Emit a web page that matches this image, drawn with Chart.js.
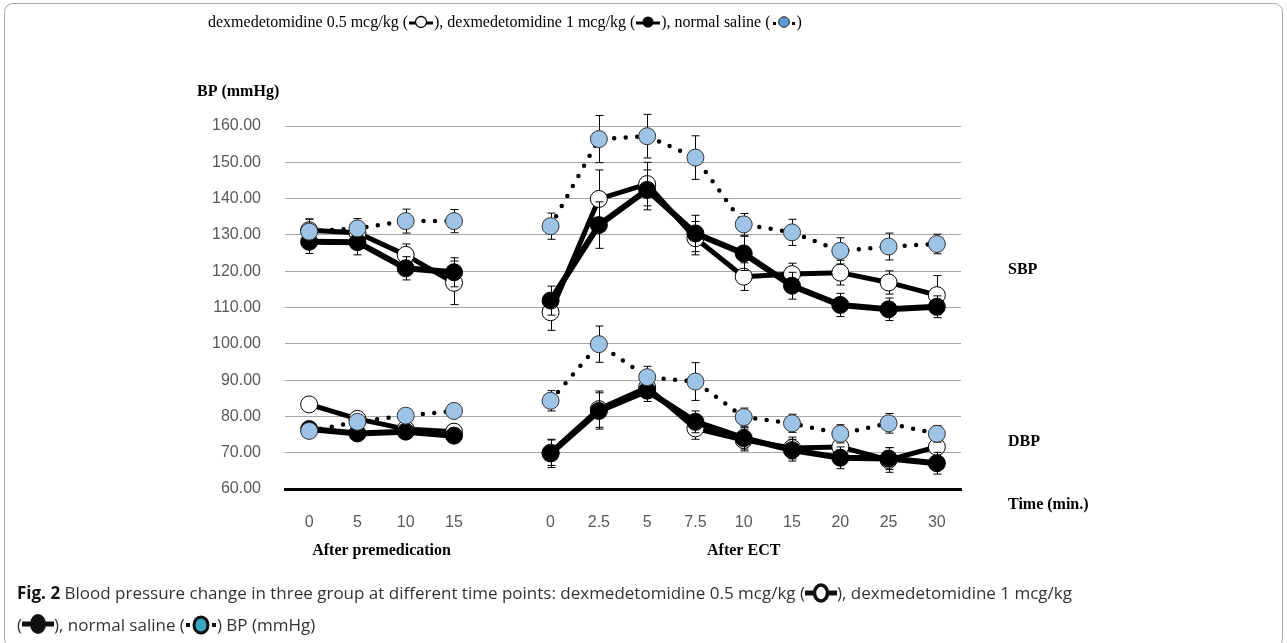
<!DOCTYPE html>
<html>
<head>
<meta charset="utf-8">
<script src="https://cdn.jsdelivr.net/npm/chart.js@4.4.1/dist/chart.umd.min.js"></script>
<style>
  html, body { margin: 0; padding: 0; background: #fff; }
  body { width: 1287px; height: 643px; position: relative; overflow: hidden; }
  #frame { position: absolute; left: 4px; top: 3px; width: 1279px; height: 645px; border: 1px solid #a9a9a9; border-radius: 9px; box-sizing: border-box; }
  #chartWrap { position: absolute; left: 0; top: 0; width: 1287px; height: 643px; }
  #legend { position: absolute; left: 208px; top: 12px; font: 16px "Liberation Serif", "Times New Roman", serif; color: #000; white-space: nowrap; line-height: 20px; }
  #legend svg { vertical-align: -2px; }
  .cap { position: absolute; left: 17px; font: 17px "Open Sans", sans-serif; color: #333; white-space: nowrap; line-height: 20px; }
  .cap b { color: #111; }
  .cap svg { vertical-align: -4px; }
</style>
</head>
<body>
<div id="frame"></div>
<div id="chartWrap"><canvas id="c" width="1287" height="643"></canvas></div>
<div id="legend">dexmedetomidine 0.5 mcg/kg (<svg width="26" height="14" viewBox="0 0 26 14"><line x1="1" y1="8" x2="25" y2="8" stroke="#000" stroke-width="3"/><circle cx="13" cy="7" r="5.5" fill="#fff" stroke="#000" stroke-width="1.3"/></svg>), dexmedetomidine 1 mcg/kg (<svg width="26" height="14" viewBox="0 0 26 14"><line x1="1" y1="8" x2="25" y2="8" stroke="#000" stroke-width="3"/><circle cx="13" cy="7" r="5.5" fill="#000"/></svg>), normal saline (<svg width="26" height="14" viewBox="0 0 26 14"><rect x="2" y="7" width="3" height="3" fill="#000"/><rect x="21" y="7" width="3" height="3" fill="#000"/><circle cx="13" cy="7" r="5.3" fill="#5b9bd5" stroke="#222" stroke-width="1"/></svg>)</div>
<div class="cap" style="top:583px"><b>Fig. 2</b> Blood pressure change in three group at different time points: dexmedetomidine 0.5 mcg/kg (<svg width="32" height="20" viewBox="0 0 32 20"><line x1="0" y1="10" x2="32" y2="10" stroke="#111" stroke-width="5"/><ellipse cx="16" cy="10" rx="6.5" ry="8" fill="#fff" stroke="#111" stroke-width="3.5"/></svg>), dexmedetomidine 1 mcg/kg</div>
<div class="cap" style="top:613px">(<svg width="32" height="22" viewBox="0 0 32 22"><line x1="0" y1="11" x2="32" y2="11" stroke="#111" stroke-width="5"/><ellipse cx="16" cy="11" rx="8" ry="10" fill="#111"/></svg>), normal saline (<svg width="32" height="20" viewBox="0 0 32 20"><rect x="1" y="8" width="4" height="4" fill="#111"/><rect x="27" y="8" width="4" height="4" fill="#111"/><ellipse cx="16" cy="10" rx="7" ry="8" fill="#3aa6c4" stroke="#111" stroke-width="3"/></svg>) BP (mmHg)</div>
<script>
// ---- data ----
const categories = ['0', '5', '10', '15', '', '0', '2.5', '5', '7.5', '10', '15', '20', '25', '30'];
const yTicks = [60, 70, 80, 90, 100, 110, 120, 130, 140, 150, 160];

const sbpSaline = [130.9, 131.8, 133.8, 133.8, null, 132.4, 156.4, 157.2, 151.3, 132.9, 130.7, 125.6, 126.8, 127.5];
const sbpLow    = [131.3, 130.6, 124.5, 116.8, null, 108.7, 139.9, 144.0, 129.1, 118.5, 119.2, 119.6, 116.9, 113.4];
const sbpHigh   = [128.1, 128.0, 120.8, 119.7, null, 111.9, 132.7, 142.4, 130.4, 124.9, 116.0, 110.7, 109.5, 110.2];

const dbpSaline = [76.0, 78.5, 80.2, 81.5, null, 84.3, 99.9, 90.8, 89.6, 79.8, 78.1, 75.2, 78.1, 75.2];
const dbpLow    = [83.3, 79.3, 76.5, 75.8, null, 70.0, 82.0, 88.0, 76.7, 73.5, 71.3, 71.6, 68.0, 71.6];
const dbpHigh   = [76.5, 75.3, 75.8, 74.7, null, 69.8, 81.5, 87.1, 78.5, 74.0, 70.7, 68.6, 68.4, 67.1];

const sbpSalineErr = [3.5, 2.7, 3.3, 3.2, null, 3.6, 6.5, 6.0, 6.0, 3.0, 3.6, 3.6, 3.7, 2.7];
const sbpLowErr    = [3.0, 3.0, 3.0, 6.0, null, 5.0, 8.0, 6.0, 4.6, 3.8, 3.0, 3.4, 3.2, 5.4];
const sbpHighErr   = [3.2, 3.5, 3.2, 4.0, null, 4.0, 6.4, 5.5, 5.0, 4.7, 3.7, 3.2, 3.1, 3.0];
const dbpSalineErr = [1.5, 1.5, 1.5, 1.5, null, 2.8, 5.0, 3.0, 5.2, 2.5, 2.5, 2.5, 2.7, 2.3];
const dbpLowErr    = [1.5, 1.5, 1.5, 1.5, null, 3.5, 5.0, 3.0, 3.0, 3.0, 3.0, 3.0, 3.4, 3.0];
const dbpHighErr   = [1.5, 1.5, 1.5, 1.5, null, 3.9, 5.0, 3.0, 3.0, 3.0, 3.0, 3.0, 3.0, 3.0];

const groupLabels = ['After premedication', 'After ECT'];
const groupRanges = [[0, 3], [5, 13]];

// ---- styles ----
const salineStyle = { borderColor: '#000', borderWidth: 4.5, borderDash: [0, 11.5], borderCapStyle: 'round',
  pointRadius: 8.5, pointBackgroundColor: '#9dc3e6', pointBorderColor: '#333', pointBorderWidth: 1 };
const highStyle = { borderColor: '#000', borderWidth: 6, pointRadius: 8.5, pointBackgroundColor: '#000',
  pointBorderColor: '#000', pointBorderWidth: 1 };
const lowStyle = { borderColor: '#000', borderWidth: 5, pointRadius: 8.5, pointBackgroundColor: '#fff',
  pointBorderColor: '#000', pointBorderWidth: 1 };

function ds(label, data, err, style) {
  return Object.assign({ label, data, err, tension: 0, spanGaps: false, fill: false, pointHoverRadius: 8 }, style);
}

const errorBars = {
  id: 'errorBars',
  beforeDatasetDraw(chart, args) {
    const dset = chart.data.datasets[args.index];
    if (!dset.err) return;
    const x = chart.scales.x, y = chart.scales.y, ctx = chart.ctx;
    ctx.save();
    ctx.strokeStyle = '#000';
    ctx.lineWidth = 1;
    dset.data.forEach((v, i) => {
      const e = dset.err[i];
      if (v == null || e == null) return;
      const px = Math.round(x.getPixelForValue(i)) + 0.5;
      const top = y.getPixelForValue(v + e), bot = y.getPixelForValue(v - e);
      ctx.beginPath();
      ctx.moveTo(px, top); ctx.lineTo(px, bot);
      ctx.moveTo(px - 4, top); ctx.lineTo(px + 4, top);
      ctx.moveTo(px - 4, bot); ctx.lineTo(px + 4, bot);
      ctx.stroke();
    });
    ctx.restore();
  }
};

const annotations = {
  id: 'annotations',
  afterDraw(chart) {
    const { ctx, chartArea } = chart;
    const x = chart.scales.x, y = chart.scales.y;
    ctx.save();
    ctx.fillStyle = '#000';
    ctx.font = 'bold 16px "Liberation Serif", "Times New Roman", serif';
    ctx.textBaseline = 'middle';
    ctx.textAlign = 'left';
    ctx.fillText('BP (mmHg)', chartArea.left - 88, chartArea.top - 34);
    ctx.fillText('SBP', chartArea.right + 47, y.getPixelForValue(120.5));
    ctx.fillText('DBP', chartArea.right + 47, y.getPixelForValue(73));
    ctx.fillText('Time (min.)', chartArea.right + 47, chartArea.bottom + 16);
    ctx.textAlign = 'center';
    groupLabels.forEach((g, i) => {
      const r = groupRanges[i];
      const cx = (x.getPixelForValue(r[0]) + x.getPixelForValue(r[1])) / 2;
      ctx.fillText(g, cx, chartArea.bottom + 62);
    });
    ctx.restore();
  }
};

new Chart(document.getElementById('c'), {
  type: 'line',
  data: {
    labels: categories,
    datasets: [
      ds('normal saline SBP', sbpSaline, sbpSalineErr, salineStyle),
      ds('normal saline DBP', dbpSaline, dbpSalineErr, salineStyle),
      ds('dexmedetomidine 1 mcg/kg SBP', sbpHigh, sbpHighErr, highStyle),
      ds('dexmedetomidine 1 mcg/kg DBP', dbpHigh, dbpHighErr, highStyle),
      ds('dexmedetomidine 0.5 mcg/kg SBP', sbpLow, sbpLowErr, lowStyle),
      ds('dexmedetomidine 0.5 mcg/kg DBP', dbpLow, dbpLowErr, lowStyle)
    ]
  },
  options: {
    responsive: false,
    animation: false,
    devicePixelRatio: 1,
    layout: { padding: { left: 0, top: 126, right: 326, bottom: 0 } },
    plugins: { legend: { display: false }, tooltip: { enabled: false }, title: { display: false } },
    scales: {
      x: {
        type: 'category',
        offset: true,
        grid: { display: false, drawTicks: false },
        border: { display: true, color: '#000', width: 3 },
        ticks: { color: '#595959', font: { family: '"Liberation Sans", Arial, sans-serif', size: 16 }, padding: 24, maxRotation: 0, autoSkip: false },
        afterFit(s) { s.height = 154; }
      },
      y: {
        min: 60, max: 160,
        afterBuildTicks(s) { s.ticks = yTicks.map(v => ({ value: v })); },
        grid: { color: (c) => c.tick && c.tick.value === 60 ? '#000' : '#a6a6a6', lineWidth: 1, drawTicks: false },
        border: { display: false },
        ticks: { color: '#595959', font: { family: '"Liberation Sans", Arial, sans-serif', size: 16 }, padding: 24,
          callback: (v) => Number(v).toFixed(2) },
        afterFit(s) { s.width = 285; }
      }
    }
  },
  plugins: [errorBars, annotations]
});
</script>
</body>
</html>
